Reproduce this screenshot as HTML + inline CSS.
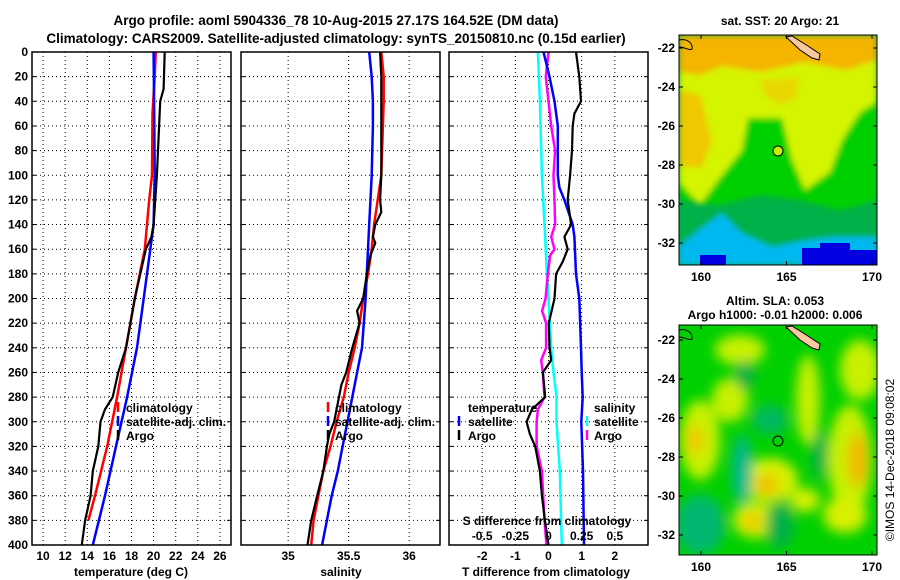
<!DOCTYPE html>
<html><head><meta charset="utf-8"><style>
html,body{margin:0;padding:0;background:#fff;}
svg{display:block;font-family:"Liberation Sans",Arial,sans-serif;font-weight:bold;}
</style></head><body>
<svg id="chart" width="900" height="580" viewBox="0 0 900 580">
<defs>
<filter id="blur6" x="-50%" y="-50%" width="200%" height="200%"><feGaussianBlur stdDeviation="6"/></filter>
<filter id="blur3" x="-20%" y="-20%" width="140%" height="140%"><feGaussianBlur stdDeviation="3"/></filter>
<clipPath id="clipTop"><rect x="679" y="35" width="198" height="230"/></clipPath>
<clipPath id="clipBot"><rect x="679" y="325" width="198" height="230"/></clipPath>
</defs>
<text x="336" y="25" font-size="13.5" text-anchor="middle">Argo profile: aoml 5904336_78 10-Aug-2015 27.17S 164.52E (DM data)</text>
<text x="336" y="43" font-size="13.5" text-anchor="middle">Climatology: CARS2009. Satellite-adjusted climatology: synTS_20150810.nc (0.15d earlier)</text>

<g id="p1"></g>
<g id="p2"></g>
<g id="p3"></g>

<!-- SST map -->
<g>
<text x="780" y="25" font-size="12" text-anchor="middle">sat. SST: 20 Argo: 21</text>
<g clip-path="url(#clipTop)">
<rect x="679" y="35" width="198" height="230" fill="#00b048"/>
<g filter="url(#blur3)">
<polygon fill="#00d000" points="679,110 877,100 877,200 840,210 800,200 760,195 720,205 679,200"/>
<polygon fill="#d4f400" points="679,35 877,35 877,102 860,112 842,140 830,172 805,190 792,160 782,118 748,118 742,150 718,180 700,205 679,182"/>
<polygon fill="#f0c800" points="679,90 700,95 712,140 702,168 679,166"/>
<polygon fill="#e8d800" points="760,80 800,78 795,100 780,105 765,95"/>
<polygon fill="#f4b400" points="679,35 877,35 877,60 845,70 805,62 760,72 722,66 700,75 679,72"/>
<polygon fill="#00b8f0" points="679,265 679,245 700,228 722,212 742,232 772,246 802,240 832,236 877,236 877,265"/>
</g>
<polygon fill="#0000e0" points="802,265 802,248 820,248 820,243 850,243 850,250 877,250 877,265"/>
<rect x="700" y="255" width="26" height="10" fill="#0000e0"/>
<polygon fill="#f8c8a0" stroke="#000" stroke-width="1" points="786,37 792,36 808,46 820,54 819,60 812,58 800,50"/>
<path d="M679,40 C688,38 693,44 692,49 C689,51 685,47 679,47" fill="none" stroke="#000"/>
</g>
<rect x="679" y="35" width="198" height="230" fill="none" stroke="#000"/>
<circle cx="778" cy="151" r="5" fill="#c8f000" stroke="#000"/>
</g>

<!-- SLA map -->
<g>
<text x="775" y="305" font-size="12" text-anchor="middle">Altim. SLA: 0.053</text>
<text x="775" y="319" font-size="12" text-anchor="middle">Argo h1000: -0.01 h2000: 0.006</text>
<g clip-path="url(#clipBot)">
<rect x="679" y="325" width="198" height="230" fill="#00d000"/>
<g filter="url(#blur6)">
<ellipse cx="700" cy="440" rx="20" ry="40" fill="#c8f000"/>
<ellipse cx="695" cy="440" rx="8" ry="16" fill="#f0c800"/>
<ellipse cx="730" cy="400" rx="18" ry="22" fill="#c8f000"/>
<ellipse cx="770" cy="480" rx="28" ry="22" fill="#d8f000"/>
<ellipse cx="767" cy="485" rx="12" ry="10" fill="#f0c000"/>
<ellipse cx="755" cy="520" rx="22" ry="18" fill="#d8f000"/>
<ellipse cx="752" cy="522" rx="9" ry="9" fill="#f0c800"/>
<ellipse cx="808" cy="400" rx="12" ry="45" fill="#c8f000"/>
<ellipse cx="850" cy="460" rx="22" ry="55" fill="#c8f000"/>
<ellipse cx="858" cy="460" rx="10" ry="28" fill="#f0b800"/>
<ellipse cx="845" cy="515" rx="22" ry="18" fill="#d8f000"/>
<ellipse cx="805" cy="500" rx="15" ry="12" fill="#d8f000"/>
<ellipse cx="860" cy="370" rx="20" ry="30" fill="#c8f000"/>
<ellipse cx="740" cy="350" rx="25" ry="15" fill="#c8f000"/>
<ellipse cx="745" cy="375" rx="10" ry="14" fill="#00b048"/>
<ellipse cx="742" cy="470" rx="10" ry="35" fill="#00b890"/>
<ellipse cx="770" cy="420" rx="18" ry="15" fill="#00b860"/>
<ellipse cx="700" cy="525" rx="25" ry="30" fill="#00b870"/>
<ellipse cx="780" cy="525" rx="14" ry="24" fill="#00b048"/>
<ellipse cx="820" cy="455" rx="8" ry="25" fill="#00b048"/>
</g>
<polygon fill="#f8c8a0" stroke="#000" stroke-width="1" points="786,327 792,326 808,336 820,344 819,350 812,348 800,340"/>
<path d="M679,330 C688,328 693,334 692,339 C689,341 685,337 679,337" fill="none" stroke="#000"/>
</g>
<rect x="679" y="325" width="198" height="230" fill="none" stroke="#000"/>
<circle cx="778" cy="441" r="5" fill="none" stroke="#000"/>
</g>
<text transform="translate(894,460) rotate(-90)" font-size="12" font-weight="normal" text-anchor="middle">©IMOS 14-Dec-2018 09:08:02</text>
<g id="mapaxes"></g>
</svg>
<script>
// ---- data ----
const tClimDepth=[0,20,50,100,120,140,160,200,240,280,320,360,380];
const tClimVal=[20.2,20.1,19.9,19.85,19.6,19.4,19.2,18.3,17.5,16.7,15.8,14.7,14.1];
const tSatDepth=[0,50,100,140,200,240,280,320,360,400];
const tSatVal=[20.0,20.05,20.1,20.0,19.1,18.5,17.6,16.6,15.6,14.5];
const tArgoDepth=[0,30,40,60,100,140,150,160,180,200,240,260,280,290,300,320,340,360,380,400];
const tArgoVal=[21.0,20.9,20.6,20.5,20.3,20.0,19.8,19.3,18.8,18.3,17.5,16.8,16.3,15.6,15.2,15.0,14.5,14.3,13.8,13.5];
const sClimDepth=[0,20,40,100,120,140,160,180,200,220,240,260,280,300,320,340,360,380,400];
const sClimVal=[35.77,35.79,35.79,35.77,35.74,35.71,35.69,35.66,35.62,35.59,35.55,35.50,35.46,35.40,35.35,35.29,35.25,35.21,35.19];
const sSatDepth=[0,20,40,60,100,140,160,200,240,260,280,300,320,340,360,380,400];
const sSatVal=[35.67,35.69,35.70,35.70,35.69,35.67,35.66,35.64,35.61,35.57,35.53,35.49,35.45,35.41,35.36,35.32,35.28];
const sArgoDepth=[0,20,40,100,120,130,140,150,155,165,180,200,210,220,240,260,270,280,300,310,320,340,360,380,400];
const sArgoVal=[35.76,35.77,35.77,35.77,35.76,35.77,35.72,35.70,35.72,35.68,35.65,35.62,35.57,35.59,35.53,35.48,35.44,35.42,35.38,35.34,35.32,35.29,35.24,35.19,35.16];
const dtSatDepth=[0,20,40,60,100,110,120,140,150,180,200,240,260,280,300,340,400];
const dtSatVal=[-0.15,0.03,0.18,0.28,0.28,0.33,0.48,0.73,0.78,0.83,0.93,0.98,1.0,1.03,0.99,1.04,1.07];
const dtArgoDepth=[0,20,40,50,60,80,100,120,140,150,160,170,180,200,220,240,250,260,280,290,300,310,320,340,360,380,400];
const dtArgoVal=[0.83,0.93,0.98,0.78,0.73,0.71,0.65,0.58,0.68,0.48,0.58,0.43,0.23,0.18,0.01,0.03,0.08,-0.17,-0.1,-0.5,-0.66,-0.56,-0.4,-0.26,-0.2,-0.11,0.0];
const dsSatDepth=[0,40,100,140,180,200,240,260,280,300,340,400];
const dsSatVal=[-0.08,-0.065,-0.05,-0.03,-0.012,0.0,0.02,0.038,0.06,0.06,0.085,0.1];
const dsArgoDepth=[0,20,40,60,80,100,120,140,150,160,165,180,200,210,220,240,250,260,280,290,300,320,340,360,380,400];
const dsArgoVal=[0.0,-0.02,0.0,0.02,0.05,0.038,0.045,0.05,0.02,0.045,0.012,-0.005,-0.022,-0.048,-0.018,-0.018,-0.055,-0.043,-0.03,-0.08,-0.09,-0.09,-0.05,-0.04,-0.03,-0.015];
const depthTicks=[0,20,40,60,80,100,120,140,160,180,200,220,240,260,280,300,320,340,360,380,400];
const tTicks=[10,12,14,16,18,20,22,24,26];
const sTicks=[35,35.5,36];
const dtTicks=[-2,-1,0,1,2];
const dsTicks=[-0.5,-0.25,0,0.25,0.5];
const dsTickLabels=["-0.5","-0.25","0","0.25","0.5"];
const latTicks=[-22,-24,-26,-28,-30,-32];
const lonTicks=[160,165,170];

const NS="http://www.w3.org/2000/svg";
const Y0=52,Y1=545;
function yS(d){return Y0+d*(Y1-Y0)/400;}
function mk(tag,attrs,parent){const e=document.createElementNS(NS,tag);for(const k in attrs)e.setAttribute(k,attrs[k]);parent.appendChild(e);return e;}
function panel(g,x0,x1,dmin,dmax){
  const xs=v=>x0+(v-dmin)*(x1-x0)/(dmax-dmin);
  depthTicks.forEach(d=>{if(d>0&&d<400){const l=mk('line',{x1:x0,x2:x1,y1:yS(d),y2:yS(d),stroke:'#000','stroke-dasharray':'1,3'},g);}
    mk('line',{x1:x0,x2:x0+4,y1:yS(d),y2:yS(d),stroke:'#000'},g);mk('line',{x1:x1-4,x2:x1,y1:yS(d),y2:yS(d),stroke:'#000'},g);});
  return xs;
}
function vgrid(g,xs,ticks){ticks.forEach(t=>{const l=mk('line',{x1:xs(t),x2:xs(t),y1:Y0,y2:Y1,stroke:'#000','stroke-dasharray':'1,3'},g);});}
function line(g,xs,dep,val,color,w,name){
  const p=mk('polyline',{points:dep.map((d,i)=>xs(val[i]).toFixed(1)+','+yS(d).toFixed(1)).join(' '),fill:'none',stroke:color,'stroke-width':w},g);
  
}
function frame(g,x0,x1){mk('rect',{x:x0,y:Y0,width:x1-x0,height:Y1-Y0,fill:'none',stroke:'#000','stroke-width':1.5},g);}
function txt(g,x,y,s,size,anchor,name){const t=mk('text',{x:x,y:y,'font-size':size,'text-anchor':anchor||'start'},g);t.textContent=s;return t;}
function legTick(g,x,y,color){mk('line',{x1:x,x2:x,y1:y-10,y2:y,stroke:color,'stroke-width':2.5},g);}

// panel 1
const g1=document.getElementById('p1');
const xs1=panel(g1,32,231,9,27);
vgrid(g1,xs1,tTicks);
line(g1,xs1,tClimDepth,tClimVal,'#ff0000',2.5,'temp-climatology-line');
line(g1,xs1,tSatDepth,tSatVal,'#0000ff',2.5,'temp-satellite-line');
line(g1,xs1,tArgoDepth,tArgoVal,'#000',2.2,'temp-argo-line');
frame(g1,32,231);
depthTicks.forEach(d=>txt(g1,28,yS(d)+4,String(d),12,'end','depth-tick-label'));
tTicks.forEach(t=>txt(g1,xs1(t),560,String(t),12,'middle','temp-tick-label'));
txt(g1,131,576,'temperature (deg C)',12,'middle','temp-axis-title');
legTick(g1,118,412,'#ff0000');txt(g1,126,412,'climatology',12,'start','legend-climatology');
legTick(g1,118,426,'#0000ff');txt(g1,126,426,'satellite-adj. clim.',12,'start','legend-satellite');
legTick(g1,118,440,'#000');txt(g1,126,440,'Argo',12,'start','legend-argo');

// panel 2
const g2=document.getElementById('p2');
const xs2=panel(g2,241,440,34.61,36.255);
vgrid(g2,xs2,sTicks);
line(g2,xs2,sClimDepth,sClimVal,'#ff0000',2.5,'sal-climatology-line');
line(g2,xs2,sSatDepth,sSatVal,'#0000ff',2.5,'sal-satellite-line');
line(g2,xs2,sArgoDepth,sArgoVal,'#000',2.2,'sal-argo-line');
frame(g2,241,440);
sTicks.forEach(t=>txt(g2,xs2(t),560,String(t),12,'middle','sal-tick-label'));
txt(g2,341,576,'salinity',12,'middle','sal-axis-title');
legTick(g2,328,412,'#ff0000');txt(g2,335,412,'climatology',12,'start','legend-climatology');
legTick(g2,328,426,'#0000ff');txt(g2,335,426,'satellite-adj. clim.',12,'start','legend-satellite');
legTick(g2,328,440,'#000');txt(g2,335,440,'Argo',12,'start','legend-argo');

// panel 3
const g3=document.getElementById('p3');
const xs3=panel(g3,449,648,-3,3);
const xs3s=v=>xs3(v*4);
vgrid(g3,xs3,dtTicks);
line(g3,xs3s,dsSatDepth,dsSatVal,'#00ffff',2.5,'sdiff-satellite-line');
line(g3,xs3s,dsArgoDepth,dsArgoVal,'#ff00ff',2.5,'sdiff-argo-line');
line(g3,xs3,dtSatDepth,dtSatVal,'#0000ff',2.5,'tdiff-satellite-line');
line(g3,xs3,dtArgoDepth,dtArgoVal,'#000',2.2,'tdiff-argo-line');
frame(g3,449,648);
dtTicks.forEach(t=>txt(g3,xs3(t),560,String(t),12,'middle','tdiff-tick-label'));
dsTicks.forEach((t,i)=>txt(g3,xs3s(t),540,dsTickLabels[i],12,'middle','sdiff-tick-label'));
txt(g3,547,525,'S difference from climatology',12,'middle','sdiff-axis-title');
txt(g3,546,576,'T difference from climatology',12,'middle','tdiff-axis-title');
txt(g3,468,412,'temperature',12,'start','legend-temperature-heading');
legTick(g3,459,426,'#0000ff');txt(g3,468,426,'satellite',12,'start','legend-t-satellite');
legTick(g3,459,440,'#000');txt(g3,468,440,'Argo',12,'start','legend-t-argo');
txt(g3,594,412,'salinity',12,'start','legend-salinity-heading');
legTick(g3,587,426,'#00ffff');txt(g3,594,426,'satellite',12,'start','legend-s-satellite');
legTick(g3,587,440,'#ff00ff');txt(g3,594,440,'Argo',12,'start','legend-s-argo');

// map axes
const ga=document.getElementById('mapaxes');
const lonX=l=>701+(l-160)*17.1;
[[35,265,48],[325,555,340]].forEach(([top,bot,y22])=>{
  latTicks.forEach(la=>{const y=y22+(-22-la)*19.5;
    mk('line',{x1:679,x2:683,y1:y,y2:y,stroke:'#000'},ga);mk('line',{x1:873,x2:877,y1:y,y2:y,stroke:'#000'},ga);
    txt(ga,675,y+4,String(la),12,'end','lat-tick-label');});
  lonTicks.forEach(lo=>{const x=lonX(lo);
    mk('line',{x1:x,x2:x,y1:top,y2:top+4,stroke:'#000'},ga);mk('line',{x1:x,x2:x,y1:bot-4,y2:bot,stroke:'#000'},ga);
    txt(ga,x,bot+16,String(lo),12,'middle','lon-tick-label');});
});
</script>
</body></html>
